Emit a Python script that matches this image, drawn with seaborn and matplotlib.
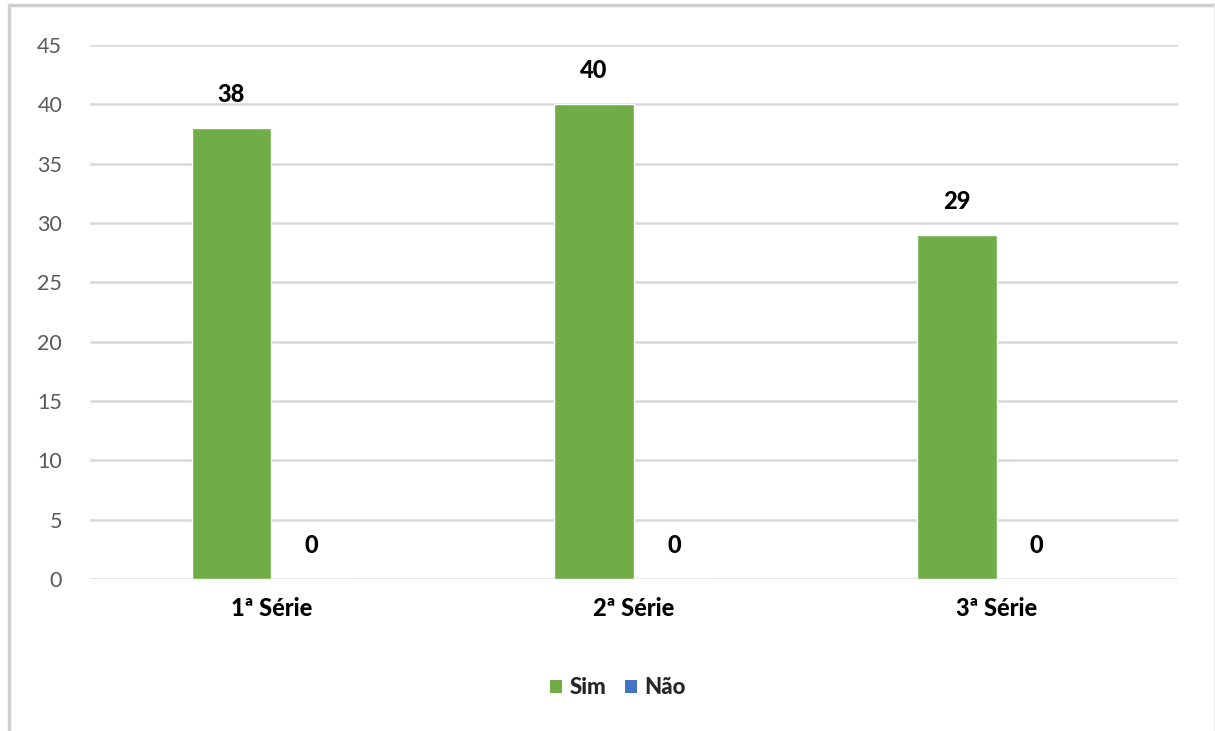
import matplotlib
matplotlib.use("Agg")
import matplotlib.pyplot as plt
import seaborn as sns
import pandas as pd
from matplotlib.lines import Line2D
from matplotlib.patches import Patch

# Data
categories = ["1ª Série", "2ª Série", "3ª Série"]
series_names = ["Sim", "Não"]
sim_values = [38, 40, 29]
nao_values = [0, 0, 0]
y_ticks = [0, 5, 10, 15, 20, 25, 30, 35, 40, 45]

colors = {"Sim": "#70AD47", "Não": "#4472C4"}

df = pd.DataFrame({
    "Série": categories * 2,
    "Resposta": [series_names[0]] * 3 + [series_names[1]] * 3,
    "Valor": sim_values + nao_values,
})

sns.set_theme(style="white")
plt.rcParams["font.family"] = ["Lato", "DejaVu Sans"]

fig = plt.figure(figsize=(12.15, 7.31), dpi=100)
ax = fig.add_axes([90 / 1215, 1 - 579 / 731, (1178 - 90) / 1215, (579 - 45) / 731])

sns.barplot(data=df, x="Série", y="Valor", hue="Resposta", palette=colors,
            width=0.44, ax=ax, legend=False, saturation=1)

ax.set_ylim(0, 45)
ax.set_yticks(y_ticks)
ax.set_xlim(-0.5, 2.5)
ax.yaxis.grid(True, color="#D9D9D9", linewidth=1.8)
ax.set_axisbelow(True)
for s in ax.spines.values():
    s.set_visible(False)
ax.set_xlabel("")
ax.set_ylabel("")
ax.tick_params(axis="y", colors="#595959", labelsize=15.5, length=0, pad=20)
ax.tick_params(axis="x", length=0, pad=13)
for lbl in ax.get_xticklabels():
    lbl.set_fontweight(900)
    lbl.set_fontsize(17)
    lbl.set_color("#000000")

# Value labels above each bar
for container in ax.containers:
    for bar in container:
        h = bar.get_height()
        ax.annotate(f"{h:.0f}", (bar.get_x() + bar.get_width() / 2, h),
                    xytext=(0, 24), textcoords="offset points",
                    ha="center", va="center", fontsize=17, fontweight=900,
                    color="#000000")

# Legend below the plot
handles = [Patch(facecolor=colors[n], edgecolor="none") for n in series_names]
leg = fig.legend(handles, series_names, loc="center", bbox_to_anchor=(618 / 1215, 1 - 688 / 731),
                 ncol=2, frameon=False, handlelength=0.55, handleheight=0.55,
                 handletextpad=0.35, columnspacing=0.8,
                 prop={"weight": 900, "size": 16})

# Chart frame (top and left edges)
fig.add_artist(Line2D([9 / 1215, 1], [1 - 5 / 731, 1 - 5 / 731], transform=fig.transFigure,
                      color="#D0D0D0", linewidth=2.5))
fig.add_artist(Line2D([9 / 1215, 9 / 1215], [0, 1 - 5 / 731], transform=fig.transFigure,
                      color="#D0D0D0", linewidth=2.5))
fig.add_artist(Line2D([1214 / 1215, 1214 / 1215], [0, 1 - 5 / 731], transform=fig.transFigure,
                      color="#EBEBEB", linewidth=1))

fig.savefig("out.png", dpi=100, facecolor="white")
